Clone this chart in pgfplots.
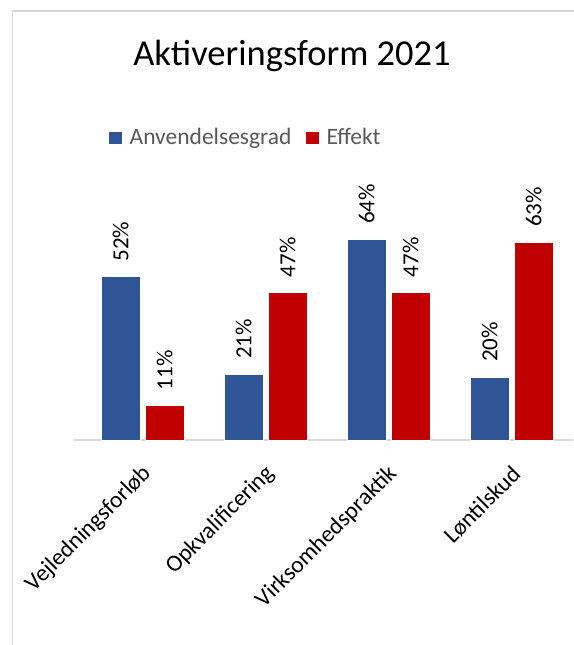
\documentclass[border=0pt]{standalone}
\usepackage{fontspec}
\setmainfont{Carlito}
\usepackage{pgfplots}
\pgfplotsset{compat=1.18}

\definecolor{barblue}{HTML}{2F5597}
\definecolor{barred}{HTML}{C00000}
\definecolor{legendgray}{HTML}{595959}
\definecolor{framegray}{HTML}{D9D9D9}

\begin{document}
\begin{tikzpicture}[x=1pt,y=1pt]
% axis box south west sits at (0,0); the scope maps image pixels (px,-py)
\begin{scope}[shift={(-74,440)}]
\path[use as bounding box] (0,0) rectangle (571,-645);
\draw[framegray, line width=1.5pt] (12.7,-650) -- (12.7,-11) -- (580,-11);
\node[anchor=base, font=\fontsize{36.5}{42}\selectfont] at (292,-66) {Aktiveringsform 2021};
\end{scope}

\begin{axis}[
    anchor=south west,
    scale only axis,
    width=499pt, height=219.8pt,
    xmin=-0.557, xmax=3.5,
    ymin=0, ymax=70,
    ybar=5pt, bar width=39pt,
    axis y line=none,
    axis x line*=bottom,
    x axis line style={framegray, line width=1.6pt},
    clip=false,
    xtick={0,1,2,3},
    xticklabels={Vejledningsforløb,Opkvalificering,Virksomhedspraktik,Løntilskud},
    major tick length=0pt,
    xticklabel style={xshift=5pt, yshift=-30pt, rotate=45, anchor=east, inner sep=0pt,
        font=\fontsize{23.5}{28}\selectfont, text=black},
    /pgf/number format/assume math mode=true,
    nodes near coords={\pgfmathprintnumber{\pgfplotspointmeta}\%},
    every node near coord/.append style={rotate=90, anchor=west,
        inner xsep=15pt, inner ysep=0pt, text=black,
        font=\fontsize{23}{27}\selectfont},
    legend columns=2,
    legend image code/.code={\path[#1, draw=none] (0pt,-6pt) rectangle (13pt,6pt);},
    legend style={at={(0.0701,1.376)}, anchor=west, draw=none, fill=none,
        inner sep=0pt, text=legendgray, font=\fontsize{23.5}{28}\selectfont,
        nodes={inner sep=0pt},
        /tikz/every odd column/.append style={column sep=7.5pt},
        /tikz/every even column/.append style={column sep=14.5pt}},
]
\addplot[fill=barblue, draw=white, line width=0.6pt] coordinates {(0,52) (1,21) (2,64) (3,20)};
\addplot[fill=barred, draw=white, line width=0.6pt] coordinates {(0,11) (1,47) (2,47) (3,63)};
\legend{Anvendelsesgrad, Effekt}
\end{axis}
\end{tikzpicture}
\end{document}
